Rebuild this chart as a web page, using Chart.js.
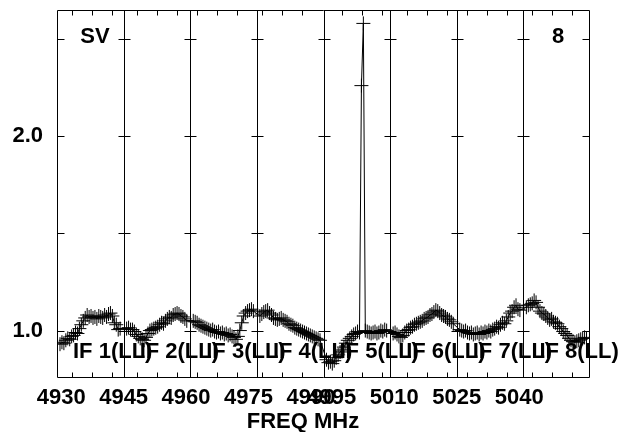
<!DOCTYPE html>
<html><head><meta charset="utf-8">
<script src="https://cdn.jsdelivr.net/npm/chart.js@4/dist/chart.umd.min.js"></script>
<style>html,body{margin:0;padding:0;background:#fff}#wrap{width:628px;height:432px}</style>
</head><body><div id="wrap"><canvas id="c" width="628" height="432"></canvas></div>
<script>
const sourceName = 'SV';
const panelLabel = '8';
const xTitle = 'FREQ MHz';
const ifNames = ['IF 1(LL)','IF 2(LL)','IF 3(LL)','IF 4(LL)','IF 5(LL)','IF 6(LL)','IF 7(LL)','IF 8(LL)'];
const ifStartMHz = [4929, 4945, 4961, 4977, 4993, 5009, 5025, 5041];
const ifWidthMHz = 16;
const firstChanOffsetMHz = 0.72;
const chanWidthMHz = 0.466;

const if1 = [0.93,0.94,0.935,0.95,0.96,0.955,0.97,0.975,0.99,0.985,1.01,1.03,1.05,1.065,1.08,1.07,1.075,1.065,1.07,1.06,1.075,1.07,1.065,1.08,1.07,1.085,1.09,1.075,1.04,1.03,1.005,1.01];
const if2 = [1.01,1.015,1.005,1.005,0.995,0.98,0.97,0.96,0.955,0.95,0.965,0.985,1.0,1.005,1.01,1.015,1.02,1.03,1.04,1.035,1.05,1.06,1.07,1.065,1.08,1.085,1.09,1.085,1.075,1.07,1.06,1.05];
const if3 = [1.05,1.045,1.04,1.03,1.025,1.02,1.015,1.01,1.005,1.0,1.005,0.995,0.99,0.995,0.985,0.99,0.98,0.985,0.975,0.98,0.97,0.965,0.955,0.97,1.0,1.04,1.075,1.09,1.1,1.105,1.11,1.1];
const if4 = [1.075,1.085,1.095,1.1,1.105,1.09,1.08,1.065,1.06,1.055,1.06,1.065,1.055,1.05,1.045,1.035,1.03,1.025,1.015,1.01,1.005,1.0,0.995,0.99,0.985,0.98,0.975,0.97,0.965,0.96,0.955,0.95];
const if5 = [0.85,0.835,0.84,0.83,0.845,0.86,0.875,0.89,0.9,0.915,0.935,0.95,0.96,0.97,0.98,0.985,0.995,0.99,2.26,2.58,1.0,0.995,0.99,0.985,0.99,0.995,0.985,0.99,1.0,0.995,1.005,1.0];
const if6 = [0.985,0.99,0.98,0.97,0.965,0.975,0.99,1.0,1.005,1.015,1.02,1.03,1.035,1.04,1.045,1.05,1.06,1.065,1.07,1.08,1.085,1.095,1.105,1.1,1.09,1.08,1.075,1.07,1.06,1.055,1.045,1.035];
const if7 = [1.005,1.0,0.995,1.0,0.99,0.985,0.99,0.98,0.985,0.99,0.98,0.99,0.985,0.995,0.99,1.0,0.995,1.005,1.01,1.02,1.015,1.03,1.04,1.035,1.05,1.07,1.09,1.1,1.12,1.13,1.11,1.105];
const if8 = [1.12,1.13,1.135,1.14,1.155,1.145,1.12,1.1,1.09,1.085,1.075,1.065,1.055,1.06,1.045,1.04,1.035,1.02,1.01,0.995,0.985,0.975,0.96,0.95,0.945,0.94,0.945,0.95,0.955,0.96,0.965,0.96];
const ifSpectra = [if1, if2, if3, if4, if5, if6, if7, if8];

const xTickLabels = [4930, 4945, 4960, 4975, 4990, 4995, 5010, 5025, 5040];
const xMinorTicks = [4932.6,4937.4,4942.2,4948.2,4953.0,4957.8,4962.6,4967.4,4972.2,4978.2,4983.0,4987.8,4997.4,5002.2,5007.0,5013.1,5017.9,5022.7,5027.5,5032.3,5037.1,5043.1,5047.9,5052.7];
const yTicks = [1.0, 1.5, 2.0, 2.5];
const yLabelTicks = [1.0, 2.0];
const xMin = 4929, xMax = 5057, yMin = 0.756, yMax = 2.649;

const FONT = '"Liberation Sans", Arial, Helvetica, sans-serif';

const points = [];
ifSpectra.forEach((arr, k) => {
  arr.forEach((v, i) => points.push({ x: ifStartMHz[k] + firstChanOffsetMHz + i * chanWidthMHz, y: v }));
});

const overlay = {
  id: 'overlay',
  afterDatasetsDraw(chart) {
    const { ctx, chartArea: a, scales: { x, y } } = chart;
    const L = Math.round(a.left) + 0.5, R = Math.round(a.right) - 0.5;
    const T = Math.round(a.top) + 0.5, B = Math.round(a.bottom) - 0.5;
    const px = v => Math.round(x.getPixelForValue(v)) + 0.5;
    const py = v => Math.round(y.getPixelForValue(v)) + 0.5;
    ctx.save();
    ctx.strokeStyle = '#000';
    ctx.lineWidth = 1;
    ctx.beginPath();
    ctx.rect(L, T, R - L, B - T);
    for (let k = 1; k < ifStartMHz.length; k++) {
      const sx = px(ifStartMHz[k]);
      ctx.moveTo(sx, T); ctx.lineTo(sx, B);
    }
    yTicks.forEach(v => {
      const yy = py(v);
      ctx.moveTo(L, yy); ctx.lineTo(L + 7, yy);
      ctx.moveTo(R - 7, yy); ctx.lineTo(R, yy);
      for (let k = 1; k < ifStartMHz.length; k++) {
        const sx = px(ifStartMHz[k]);
        ctx.moveTo(sx - 6, yy); ctx.lineTo(sx + 6, yy);
      }
    });
    xMinorTicks.forEach(v => {
      const xx = px(v);
      ctx.moveTo(xx, T); ctx.lineTo(xx, T + 5);
      ctx.moveTo(xx, B); ctx.lineTo(xx, B - 5);
    });
    ctx.stroke();

    ctx.fillStyle = '#000';
    ctx.font = 'bold 22px ' + FONT;
    ctx.textBaseline = 'alphabetic';
    ctx.textAlign = 'left';
    ifNames.forEach((n, k) => {
      ctx.fillText(n, x.getPixelForValue(ifStartMHz[k]) + 16, a.bottom - 20);
    });
    ctx.textAlign = 'center';
    ctx.fillText(sourceName, a.left + 38, a.top + 33);
    ctx.fillText(panelLabel, a.right - 32, a.top + 33);
    ctx.fillText(xTitle, 303, 428);
    ctx.restore();
  }
};

new Chart(document.getElementById('c'), {
  type: 'line',
  data: {
    datasets: [{
      data: points,
      borderColor: '#000',
      borderWidth: 1,
      pointStyle: 'cross',
      pointRadius: 7,
      pointBorderWidth: 1,
      pointBorderColor: '#000',
      pointBackgroundColor: '#000',
      tension: 0,
      fill: false
    }]
  },
  options: {
    responsive: false,
    devicePixelRatio: 1,
    animation: false,
    events: [],
    layout: { padding: { top: 10, right: 38, left: 0, bottom: 0 } },
    plugins: { legend: { display: false }, tooltip: { enabled: false } },
    scales: {
      x: {
        type: 'linear', min: xMin, max: xMax,
        grid: { display: false, drawTicks: false },
        border: { display: false },
        afterBuildTicks: s => { s.ticks = xTickLabels.map(v => ({ value: v })); },
        afterFit: s => { s.height = 54; s.paddingLeft = 0; s.paddingRight = 0; s.paddingTop = 0; s.paddingBottom = 0; },
        ticks: {
          autoSkip: false, maxRotation: 0, minRotation: 0, padding: 7,
          color: '#000', font: { family: FONT, size: 22, weight: 'bold' },
          callback: v => String(v)
        }
      },
      y: {
        type: 'linear', min: yMin, max: yMax,
        grid: { display: false, drawTicks: false },
        border: { display: false },
        afterBuildTicks: s => { s.ticks = yTicks.map(v => ({ value: v })); },
        afterFit: s => { s.width = 57; s.paddingTop = 0; s.paddingBottom = 0; s.paddingLeft = 0; s.paddingRight = 0; },
        ticks: {
          padding: 14, color: '#000', font: { family: FONT, size: 22, weight: 'bold' },
          callback: v => yLabelTicks.includes(v) ? v.toFixed(1) : ''
        }
      }
    }
  },
  plugins: [overlay]
});
</script></body></html>
